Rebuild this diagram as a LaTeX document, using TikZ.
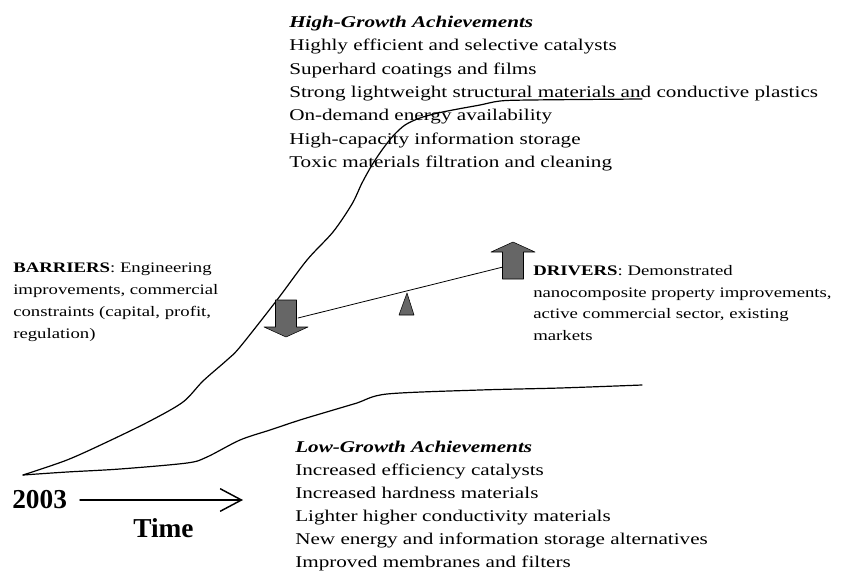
\documentclass[tikz,border=0pt]{standalone}
\usepackage{fontspec}
\setmainfont{Liberation Serif}[FakeStretch=1.29]
\newfontfamily\yearfont{Liberation Serif}
\usetikzlibrary{arrows.meta}
\tikzset{
every picture/.style={line cap=round,line join=round},
list text/.style={anchor=north west, inner sep=0pt, align=left, font=\fontsize{12.3}{17.5}\selectfont},
low list/.style={list text, font=\fontsize{12.3}{17.25}\selectfont},
side text/.style={list text, font=\fontsize{10.9}{16.3}\selectfont},
axis label/.style={anchor=north west, inner sep=0pt, font=\yearfont\bfseries\fontsize{20.5}{24}\selectfont},
growth curve/.style={draw=black, line width=0.9pt},
time arrow/.style={draw=black, line width=1.1pt, -{Straight Barb[length=16pt,width=17pt]}},
beam/.style={draw=black, line width=0.6pt},
load fill/.style={fill=black!60, draw=black, line width=0.4pt},
load arrow/.pic={
  \path[load fill] (-10.5,0) -- (10.5,0) -- (10.5,27) -- (22,27) -- (0,37)
    -- (-22,27) -- (-10.5,27) -- cycle;
}
}

\begin{document}
\begin{tikzpicture}[x=0.75pt,y=-0.75pt]
\path[fill=white,use as bounding box] (0,0) rectangle (841,585);

% achievement lists
\node[list text] (high) at (289,15.7) {\textbf{\textit{High-Growth Achievements}}\\
  Highly efficient and selective catalysts\\
  Superhard coatings and films\\
  Strong lightweight structural materials and conductive plastics\\
  On-demand energy availability\\
  High-capacity information storage\\
  Toxic materials filtration and cleaning};
\node[low list] (low) at (295,440.7) {\textbf{\textit{Low-Growth Achievements}}\\
  Increased efficiency catalysts\\
  Increased hardness materials\\
  Lighter higher conductivity materials\\
  New energy and information storage alternatives\\
  Improved membranes and filters};

% forces on the balance
\node[side text] (barriers) at (13,263) {\textbf{BARRIERS}: Engineering\\
  improvements, commercial\\
  constraints (capital, profit,\\
  regulation)};
\node[side text] (drivers) at (533,265) {\textbf{DRIVERS}: Demonstrated\\
  nanocomposite property improvements,\\
  active commercial sector, existing\\
  markets};

% time axis
\node[axis label] (year) at (12,490) {2003};
\node[axis label] (time) at (133,518) {Time};
\coordinate (tstart) at (80,500);
\coordinate (tend) at (243,500);
\draw[time arrow] (tstart) -- (tend);

% growth paths
\draw[growth curve] plot[smooth, tension=0.5] coordinates {
  (23,475) (67,460) (107,442) (150,421) (183,402) (203,381) (227,360)
  (240,347) (277,300) (307,260) (333,232) (352,204) (362,183) (372,165)
  (382,150) (393,136) (405,125) (420,118) (438,113) (458,109) (480,105)
  (500,101) (530,100) (642,99)};
\draw[growth curve] plot[smooth, tension=0.5] coordinates {
  (23,475) (67,472) (120,469) (187,463) (207,457) (240,440) (270,430)
  (300,420) (330,411) (357,403) (387,394) (480,390) (560,388) (642,385)};

% balance
\coordinate (beamleft) at (298,318);
\coordinate (beamright) at (503,267);
\draw[beam] (beamleft) -- (beamright);
\coordinate (pivot) at (407,293);
\path[load fill] (pivot) -- (414,315) -- (399,315) -- cycle;
\pic at (286,300) {load arrow};
\pic[rotate=180] at (513,279) {load arrow};
\end{tikzpicture}
\end{document}
